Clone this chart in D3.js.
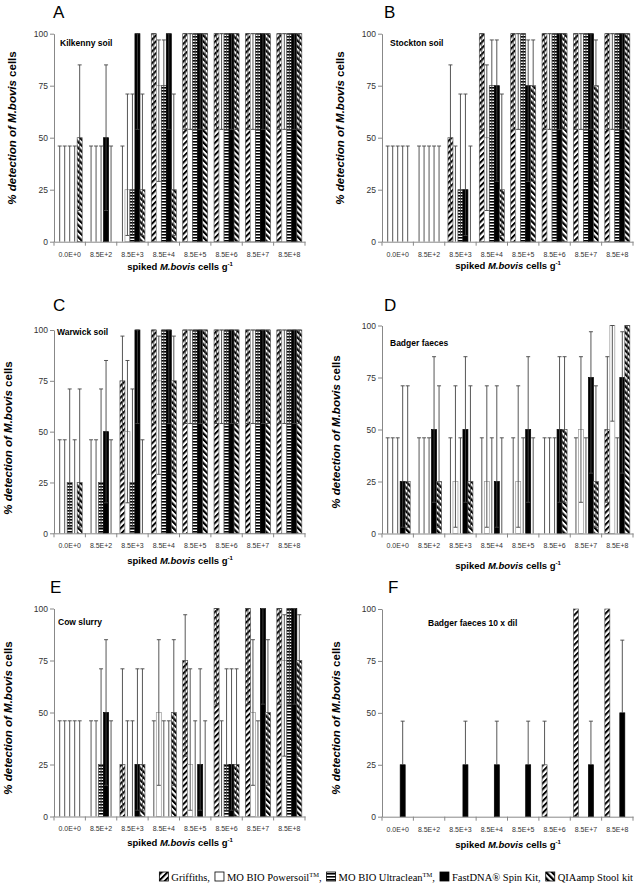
<!DOCTYPE html>
<html>
<head>
<meta charset="utf-8">
<script src="https://cdn.jsdelivr.net/npm/d3@7"></script>
<style>
body { margin: 0; background: #fff; }
svg { display: block; font-family: "Liberation Sans", Arial, sans-serif; }
</style>
</head>
<body>
<script>
// categories and series
var groups = ["0.0E+0", "8.5E+2", "8.5E+3", "8.5E+4", "8.5E+5", "8.5E+6", "8.5E+7", "8.5E+8"];
var seriesNames = ["Griffiths", "MO BIO Powersoil", "MO BIO Ultraclean", "FastDNA Spin Kit", "QIAamp Stool kit"];
var yTicks = [0, 25, 50, 75, 100];

// % detection, one row per series (Griffiths, Powersoil, Ultraclean, FastDNA, QIAamp)
var kilkenny = [
    [0, 0, 0, 100, 100, 100, 100, 100],
    [0, 0, 25, 75, 100, 100, 100, 100],
    [0, 0, 25, 75, 100, 100, 100, 100],
    [0, 50, 100, 100, 100, 100, 100, 100],
    [50, 0, 25, 25, 100, 100, 100, 100]
];
var stockton = [
    [0, 0, 50, 100, 100, 100, 100, 100],
    [0, 0, 0, 50, 100, 100, 100, 100],
    [0, 0, 25, 75, 100, 100, 100, 100],
    [0, 0, 25, 75, 75, 100, 100, 100],
    [0, 0, 0, 25, 75, 100, 75, 100]
];
var warwick = [
    [0, 0, 75, 100, 100, 100, 100, 100],
    [0, 0, 50, 75, 100, 100, 100, 100],
    [25, 25, 25, 100, 100, 100, 100, 100],
    [0, 50, 100, 100, 100, 100, 100, 100],
    [25, 0, 0, 75, 100, 100, 100, 100]
];
var badger = [
    [0, 0, 0, 0, 0, 0, 0, 50],
    [0, 0, 25, 25, 25, 0, 50, 100],
    [0, 0, 0, 0, 0, 0, 0, 0],
    [25, 50, 50, 25, 50, 50, 75, 75],
    [25, 25, 25, 0, 0, 50, 25, 100]
];
var cowSlurry = [
    [0, 0, 25, 0, 75, 100, 100, 100],
    [0, 0, 0, 50, 25, 0, 50, 75],
    [0, 25, 0, 0, 0, 25, 0, 100],
    [0, 50, 25, 0, 25, 25, 100, 100],
    [0, 0, 25, 50, 0, 25, 50, 75]
];
var badgerDil = [
    [0, 0, 0, 0, 0, 25, 100, 100],
    [0, 0, 0, 0, 0, 0, 0, 0],
    [0, 0, 0, 0, 0, 0, 0, 0],
    [25, 0, 25, 25, 25, 0, 25, 50],
    [0, 0, 0, 0, 0, 0, 0, 0]
];

// confidence limits, by detection level
var ciLevels = [0, 25, 50, 75, 100];
var ciLower = [0, 3, 15, 29, 54];
var ciUpper = [46, 71, 85, 97, 100];
// 10 x dilution panel only shows upper bars on these levels
var dilLevels = [25, 50];
var dilUpper = [46, 85];

var w = 637;
var h = 892;

var svg = d3.select("body")
    .append("svg")
    .attr("width", w)
    .attr("height", h);

var defs = svg.append("defs");
function stripes(id, angle, thick, size) {
    var p = defs.append("pattern")
        .attr("id", id)
        .attr("patternUnits", "userSpaceOnUse")
        .attr("width", size)
        .attr("height", size)
        .attr("patternTransform", "rotate(" + angle + ")");
    p.append("rect").attr("width", size).attr("height", size).attr("fill", "#fff");
    p.append("rect").attr("width", thick).attr("height", size).attr("fill", "#000");
}
stripes("fwd", 45, 2.0, 4.2);
stripes("back", -45, 2.2, 4.2);
var hp = defs.append("pattern")
    .attr("id", "horiz")
    .attr("patternUnits", "userSpaceOnUse")
    .attr("width", 4)
    .attr("height", 3);
hp.append("rect").attr("width", 4).attr("height", 3).attr("fill", "#fff");
hp.append("rect").attr("width", 4).attr("height", 1.6).attr("fill", "#000");

var seriesFill = ["url(#fwd)", "#fff", "url(#horiz)", "#000", "url(#back)"];
var seriesStroke = ["#555", "#999", "#444", "#000", "#555"];

var panels = [
    {letter: "A", name: "Kilkenny soil", data: kilkenny, x0: 54, x1: 305, top: 33.7, bot: 241.7,
     lx: 53, ly: 18, nx: 60, ny: 46, tx: 180, ty: 270, yl: [16, 128]},
    {letter: "B", name: "Stockton soil", data: stockton, x0: 382, x1: 633, top: 33.7, bot: 241.7,
     lx: 384, ly: 18, nx: 390, ny: 46, tx: 508, ty: 269, yl: [344, 128]},
    {letter: "C", name: "Warwick soil", data: warwick, x0: 54, x1: 305, top: 330, bot: 533.3,
     lx: 53, ly: 311, nx: 57, ny: 335, tx: 180, ty: 564, yl: [12, 438]},
    {letter: "D", name: "Badger faeces", data: badger, x0: 382, x1: 633, top: 325.5, bot: 533.5,
     lx: 384, ly: 311, nx: 390, ny: 346, tx: 508, ty: 569, yl: [340, 432]},
    {letter: "E", name: "Cow slurry", data: cowSlurry, x0: 54, x1: 305, top: 608.5, bot: 816.5,
     lx: 50, ly: 593, nx: 58, ny: 625, tx: 180, ty: 846, yl: [12, 718]},
    {letter: "F", name: "Badger faeces 10 x dil", data: badgerDil, x0: 382, x1: 633, top: 609, bot: 816.7,
     lx: 388, ly: 593, nx: 428, ny: 626, tx: 508, ty: 848, yl: [340, 718], dil: true}
];

function ciFor(p, v) {
    if (p.dil) {
        var k = dilLevels.indexOf(v);
        return k < 0 ? null : [v, dilUpper[k]];
    }
    var i = ciLevels.indexOf(v);
    return [ciLower[i], ciUpper[i]];
}

function drawPanel(p) {
    var g = svg.append("g");
    var x = d3.scaleBand().domain(groups).range([p.x0, p.x1]);
    var xs = d3.scaleBand().domain(d3.range(seriesNames.length))
        .range([0, x.bandwidth()]).paddingOuter(0.64);
    var y = d3.scaleLinear().domain([0, 100]).range([p.bot, p.top]);

    var recs = [];
    p.data.forEach(function (vals, si) {
        vals.forEach(function (v, gi) { recs.push({si: si, gi: gi, v: v}); });
    });

    // bars
    g.append("g").selectAll("rect")
        .data(recs.filter(function (d) { return d.v > 0; }))
        .join("rect")
        .attr("x", function (d) { return x(groups[d.gi]) + xs(d.si); })
        .attr("y", function (d) { return y(d.v); })
        .attr("width", xs.bandwidth())
        .attr("height", function (d) { return y(0) - y(d.v); })
        .attr("fill", function (d) { return seriesFill[d.si]; })
        .attr("stroke", function (d) { return seriesStroke[d.si]; })
        .attr("stroke-width", 0.7);

    // error bars
    var errs = recs.map(function (d) {
        var ci = ciFor(p, d.v);
        return ci ? {cx: x(groups[d.gi]) + xs(d.si) + xs.bandwidth() / 2, lo: ci[0], hi: ci[1], v: d.v} : null;
    }).filter(function (d) { return d; });

    var eg = g.append("g").attr("stroke", "#444").attr("stroke-width", 0.9);
    eg.selectAll("line.stem").data(errs).join("line")
        .attr("class", "stem")
        .attr("x1", function (d) { return d.cx; })
        .attr("x2", function (d) { return d.cx; })
        .attr("y1", function (d) { return y(d.lo); })
        .attr("y2", function (d) { return y(d.hi); });
    eg.selectAll("line.cap-hi").data(errs).join("line")
        .attr("class", "cap-hi")
        .attr("x1", function (d) { return d.cx - 2; })
        .attr("x2", function (d) { return d.cx + 2; })
        .attr("y1", function (d) { return y(d.hi); })
        .attr("y2", function (d) { return y(d.hi); });
    eg.selectAll("line.cap-lo").data(errs.filter(function (d) { return d.lo < d.v; })).join("line")
        .attr("class", "cap-lo")
        .attr("x1", function (d) { return d.cx - 2; })
        .attr("x2", function (d) { return d.cx + 2; })
        .attr("y1", function (d) { return y(d.lo); })
        .attr("y2", function (d) { return y(d.lo); });

    // axes
    var ya = g.append("g")
        .attr("transform", "translate(" + p.x0 + ",0)")
        .call(d3.axisLeft(y).tickValues(yTicks).tickSize(4).tickSizeOuter(0).tickPadding(2));
    ya.attr("font-family", null).attr("font-size", null);
    ya.selectAll("text").attr("font-size", "8.5px").attr("fill", "#333");
    ya.selectAll("path, line").attr("stroke", "#888");

    var xa = g.append("g")
        .attr("transform", "translate(0," + p.bot + ")")
        .call(d3.axisBottom(x).tickSize(0).tickPadding(10));
    xa.attr("font-family", null).attr("font-size", null);
    xa.selectAll("text").attr("font-size", "7px").attr("fill", "#333");
    xa.select(".domain").attr("stroke", "#888");
    xa.selectAll("line.bound")
        .data(d3.range(groups.length + 1))
        .join("line")
        .attr("class", "bound")
        .attr("x1", function (k) { return p.x0 + k * x.step(); })
        .attr("x2", function (k) { return p.x0 + k * x.step(); })
        .attr("y1", 0)
        .attr("y2", 4)
        .attr("stroke", "#888");

    // texts
    g.append("text")
        .attr("x", p.lx).attr("y", p.ly)
        .attr("font-size", "17px")
        .text(p.letter);

    g.append("text")
        .attr("x", p.nx).attr("y", p.ny)
        .attr("font-size", "8.5px")
        .attr("font-weight", "bold")
        .text(p.name);

    var xt = g.append("text")
        .attr("x", p.tx).attr("y", p.ty)
        .attr("text-anchor", "middle")
        .attr("font-size", "9.5px")
        .attr("font-weight", "bold");
    xt.append("tspan").text("spiked ");
    xt.append("tspan").attr("font-style", "italic").text("M.bovis");
    xt.append("tspan").text(" cells g");
    xt.append("tspan").attr("font-size", "6px").attr("dy", "-4").text("-1");

    var yt = g.append("text")
        .attr("transform", "translate(" + p.yl[0] + "," + p.yl[1] + ") rotate(-90)")
        .attr("text-anchor", "middle")
        .attr("font-size", "11.5px")
        .attr("font-weight", "bold");
    yt.append("tspan").attr("font-style", "italic").text("% detection of M.bovis");
    yt.append("tspan").text(" cells");
}

panels.forEach(drawPanel);

// legend: laid out left to right, then shifted so it ends near the right edge
var legendLabels = [["Griffiths,"], ["MO BIO Powersoil", "TM", ","], ["MO BIO Ultraclean", "TM", ","],
    ["FastDNA\u00AE Spin Kit,"], ["QIAamp Stool kit"]];
var lg = svg.append("g").attr("font-family", "'Liberation Serif', 'Times New Roman', serif");
var cursor = 0;
var ly = 881;
legendLabels.forEach(function (parts, i) {
    lg.append("rect")
        .attr("x", cursor).attr("y", ly - 9)
        .attr("width", 9).attr("height", 9)
        .attr("fill", seriesFill[i])
        .attr("stroke", "#000")
        .attr("stroke-width", 0.8);
    var t = lg.append("text")
        .attr("x", cursor + 12).attr("y", ly)
        .attr("font-size", "10.5px");
    t.append("tspan").text(parts[0]);
    if (parts.length > 1) {
        t.append("tspan").attr("font-size", "6.5px").attr("dy", "-4").text(parts[1]);
        t.append("tspan").attr("dy", "4").text(parts[2]);
    }
    cursor += 12 + t.node().getComputedTextLength() + (i < legendLabels.length - 1 ? 5 : 0);
});
lg.attr("transform", "translate(" + Math.max(4, 633 - cursor) + ",0)");
</script>
</body>
</html>
